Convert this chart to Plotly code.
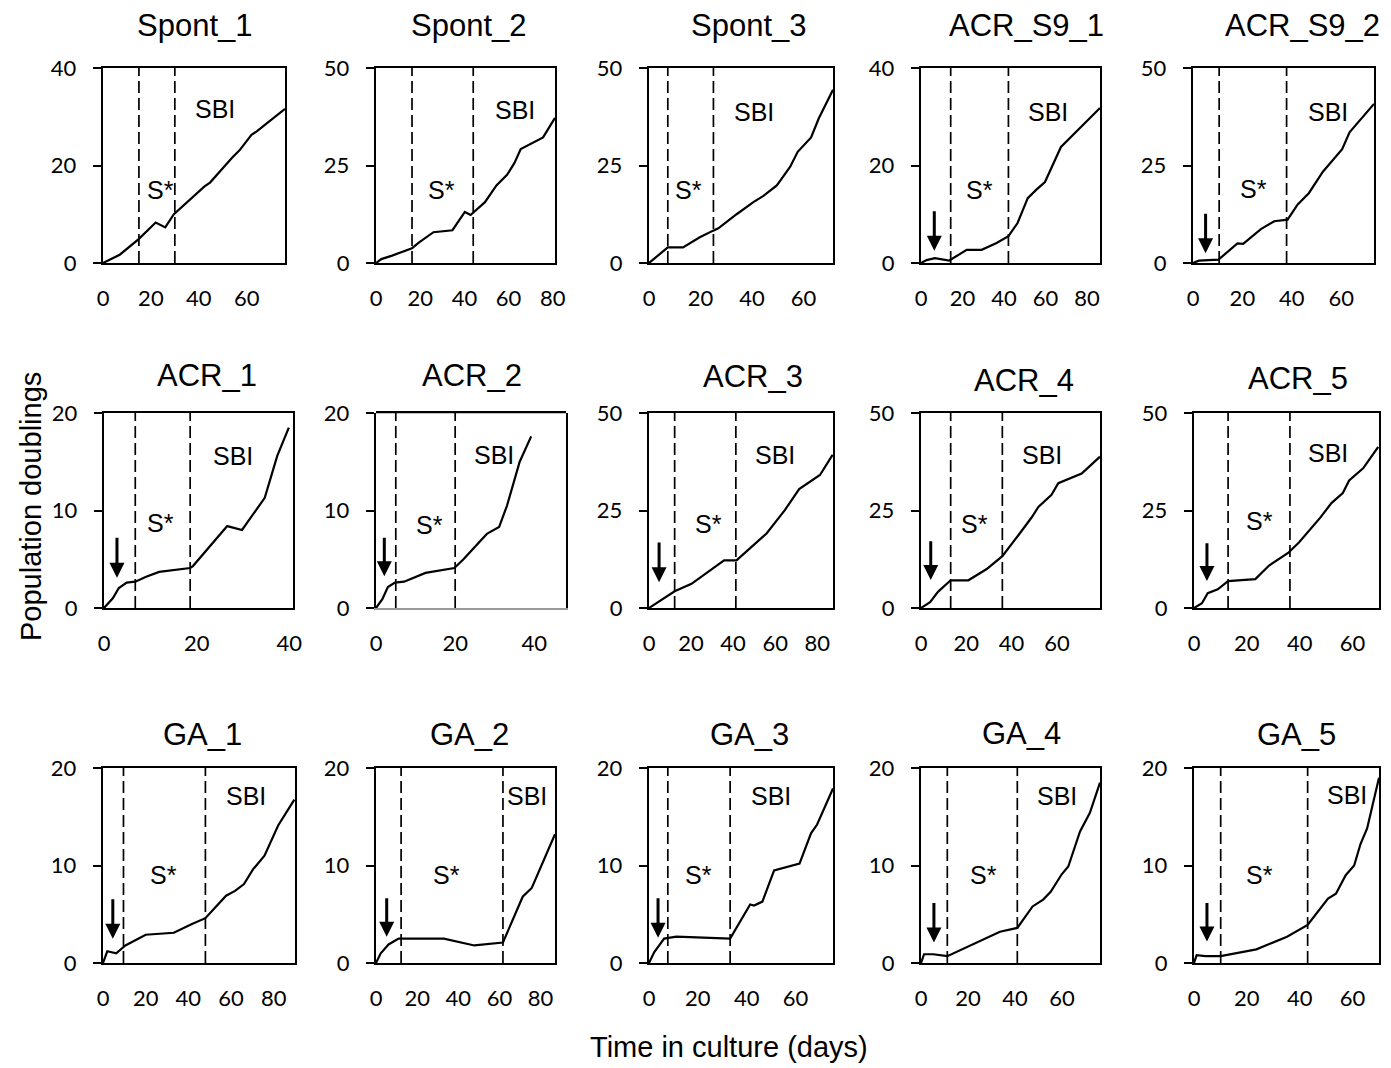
import plotly.graph_objects as go

W, H = 1391, 1068

# ---------------- DATA ----------------
panel_names = ["Spont_1", "Spont_2", "Spont_3", "ACR_S9_1", "ACR_S9_2",
               "ACR_1", "ACR_2", "ACR_3", "ACR_4", "ACR_5",
               "GA_1", "GA_2", "GA_3", "GA_4", "GA_5"]

spont1_days = [0, 7, 14.9, 22, 26, 29.6, 42.4, 44.7, 53.7, 57, 62, 64.2, 76]
spont1_pd = [0, 1.7, 4.9, 8.3, 7.3, 10, 15.7, 16.5, 21.5, 23.1, 26.3, 27, 31.6]

spont2_days = [0, 2.4, 7.3, 16.3, 19.5, 26, 34.6, 40.2, 42.8, 49.3, 54.5, 59.3, 62.6, 65.5, 75.6, 81]
spont2_pd = [0, 1, 1.9, 3.8, 5.3, 7.9, 8.4, 13.1, 12.3, 15.6, 19.9, 22.6, 25.6, 29.2, 32.2, 37.2]

spont3_days = [0, 7.3, 13.2, 19.7, 24.9, 26.9, 34, 40.5, 44.4, 49.6, 54.8, 57.7, 62.9, 65.9, 71.4]
spont3_pd = [0, 4, 4, 6.6, 8.3, 8.9, 12.5, 15.6, 17.2, 19.9, 24.7, 28.5, 32.2, 37.1, 44.4]

acrs9_1_days = [0, 2.7, 6.7, 13.6, 22, 29.2, 36.4, 42.1, 46.5, 51.4, 55.7, 59.7, 67.4, 86.2]
acrs9_1_pd = [0, 0.6, 1, 0.5, 2.7, 2.7, 4.1, 5.5, 8.2, 13.3, 15.1, 16.6, 23.8, 31.8]

acrs9_2_days = [0, 2.4, 10.3, 18, 20.3, 27.5, 32.9, 38.3, 42.4, 46.9, 52.6, 60.4, 63.4, 73.3]
acrs9_2_pd = [0, 0.6, 0.85, 5, 4.9, 8.7, 10.7, 11.1, 15, 17.9, 23.4, 29.2, 33.5, 40.8]

acr1_days = [0, 1.9, 3.2, 4.9, 6.75, 9.1, 11.9, 18.6, 19.2, 26.6, 29.8, 31.6, 34.7, 37.4, 39.9]
acr1_pd = [0, 1, 2.05, 2.6, 2.7, 3.2, 3.7, 4.1, 4.3, 8.4, 8, 9.2, 11.3, 15.6, 18.5]

acr2_days = [0, 1.6, 3, 4.8, 7.1, 12.5, 19.8, 22.1, 28, 31.1, 33.1, 36.3, 39.2]
acr2_pd = [0, 0.9, 2.15, 2.6, 2.7, 3.6, 4.1, 5, 7.6, 8.3, 10.5, 15, 17.6]

acr3_days = [0, 5.9, 12.2, 20.2, 28.9, 35.7, 41.6, 49.5, 55.9, 64.6, 71.4, 81.3, 87.3]
acr3_pd = [0, 2.1, 4.3, 6.2, 9.5, 12.2, 12.2, 16.1, 19.1, 25.1, 30.5, 34.1, 39.3]

acr4_days = [0, 4, 7.6, 13.1, 20.9, 29, 35.9, 38.5, 42.9, 48.8, 51.8, 57.6, 60.6, 70.9, 79]
acr4_pd = [0, 1.5, 4.2, 7.1, 7.1, 10, 13.3, 15.2, 18.6, 23.2, 25.9, 29, 32, 34.5, 38.8]

acr5_days = [0, 3, 5.2, 9, 12.9, 23.2, 28.4, 35.6, 39.7, 47.7, 52, 56.3, 58.7, 64, 69.7]
acr5_pd = [0, 1.2, 3.8, 4.8, 6.9, 7.4, 10.9, 14.1, 16.8, 23.1, 26.9, 29.5, 32.7, 35.8, 41.3]

ga1_days = [0, 2, 6.2, 10.5, 20, 33.2, 41.7, 48, 52.6, 57.7, 61.9, 66.1, 70.3, 75.7, 82.1, 89.7]
ga1_pd = [0, 1.2, 1, 1.8, 2.9, 3.1, 4, 4.6, 5.7, 6.9, 7.4, 8.1, 9.6, 11, 14.1, 16.75]

ga2_days = [0, 2.3, 6.1, 11, 33, 47.8, 61.7, 71.3, 75.7, 87]
ga2_pd = [0, 1, 1.9, 2.5, 2.5, 1.8, 2.1, 6.8, 7.7, 13.2]

ga3_days = [0, 2.1, 6.2, 11.2, 33.2, 41.4, 43, 46.4, 51.2, 61.6, 66.3, 68.8, 75.3]
ga3_pd = [0, 1.1, 2.5, 2.7, 2.5, 6, 5.9, 6.3, 9.5, 10.2, 13.3, 14.2, 17.9]

ga4_days = [0, 1.3, 5.2, 11.2, 33.6, 41, 47.5, 52, 55.2, 59.9, 62.7, 65.5, 67.7, 71.9, 76.2]
ga4_pd = [0, 0.9, 0.9, 0.7, 3.2, 3.6, 5.8, 6.5, 7.3, 9.1, 9.9, 11.9, 13.5, 15.4, 18.5]

ga5_days = [0, 1, 4.3, 10.1, 23.6, 35.2, 43, 50.7, 53.7, 57.4, 60.6, 63, 65.5, 70]
ga5_pd = [0, 0.8, 0.7, 0.7, 1.4, 2.7, 3.9, 6.6, 7.1, 9, 10, 12.2, 13.8, 19]

all_days = [spont1_days, spont2_days, spont3_days, acrs9_1_days, acrs9_2_days,
            acr1_days, acr2_days, acr3_days, acr4_days, acr5_days,
            ga1_days, ga2_days, ga3_days, ga4_days, ga5_days]
all_pd = [spont1_pd, spont2_pd, spont3_pd, acrs9_1_pd, acrs9_2_pd,
          acr1_pd, acr2_pd, acr3_pd, acr4_pd, acr5_pd,
          ga1_pd, ga2_pd, ga3_pd, ga4_pd, ga5_pd]

# phase boundaries (days): start of S* and start of SBI
sstar_start = [15, 16.3, 7.3, 14.3, 10.6, 6.75, 5, 12.2, 13.1, 12.9, 9.6, 12.2, 7.7, 11.2, 10.1]
sbi_start = [30, 44, 25, 42.1, 37.9, 18.6, 20, 41.3, 35.9, 36.3, 48, 61.7, 33.2, 41, 43]

# treatment arrows (day, arrow tail value, arrow tip value); None = no arrow
arrow_day = [None, None, None, 6.4, 5.1, 2.8, 2.1, 4.8, 4.3, 4.9, 4.6, 5.2, 3.7, 5.5, 4.9]
arrow_top = [None, None, None, 10.9, 13, 7.35, 7.35, 17.2, 17.5, 17, 6.7, 6.8, 6.8, 6.3, 6.3]
arrow_tip = [None, None, None, 2.5, 2.5, 3.1, 3.25, 6.6, 7.2, 6.9, 2.5, 2.7, 2.6, 2.1, 2.2]

# axis ranges
x_max = [76, 81, 71.4, 86.2, 73.3, 40.8, 48, 87.5, 79, 70, 90, 87, 75.3, 76.2, 70]
y_max = [40, 50, 50, 40, 50, 20, 20, 50, 50, 50, 20, 20, 20, 20, 20]

# ---------------- LAYOUT (pixel geometry) ----------------
# plot-area boxes: (left, right, top, bottom) in px
boxes = [(103, 285, 68, 263), (376, 555, 68, 263), (649, 833, 68, 263), (921, 1100, 68, 263), (1193, 1374, 68, 263),
         (104, 293, 413, 608), (376, 566, 413, 608), (649, 833, 413, 608), (921, 1100, 413, 608), (1194, 1379, 413, 608),
         (103, 295, 768, 963), (376, 555, 768, 963), (649, 833, 768, 963), (921, 1100, 768, 963), (1194, 1379, 768, 963)]
# title centres in px
title_px = [(195, 26), (469, 26), (749, 26), (1026, 26), (1302, 26),
            (207, 375), (472, 375), (753, 377), (1024, 380), (1298, 378),
            (203, 734), (469, 734), (749, 734), (1021, 733), (1296, 734)]
# S* and SBI label positions (data coordinates of each panel)
sstar_xy = [(23.9, 14.9), (29.8, 18.6), (15.2, 18.6), (28.4, 14.9), (24.4, 19),
            (12.2, 8.7), (13.5, 8.5), (28.1, 21.6), (23.8, 21.6), (24.9, 22.3),
            (28.5, 9.06), (34.3, 9.06), (20.1, 9), (26.5, 9), (24.9, 9)]
sbi_xy = [(46.9, 31.5), (63.1, 39.3), (40.8, 38.8), (61.3, 31), (54.6, 38.6),
          (27.8, 15.6), (29.8, 15.7), (59.8, 39.3), (53.2, 39.3), (50.7, 39.8),
          (67, 17.1), (73.6, 17.1), (49.9, 17.1), (58, 17.1), (57.8, 17.2)]

TXT = "Liberation Sans, Arial, sans-serif"
TICK = "Lato, Liberation Sans, sans-serif"

fig = go.Figure()
layout = dict(width=W, height=H, margin=dict(l=0, r=0, t=0, b=0, autoexpand=False),
              paper_bgcolor="white", plot_bgcolor="white", showlegend=False,
              template="none")
shapes = []
annotations = []

for i, name in enumerate(panel_names):
    k = i + 1
    sx = "" if k == 1 else str(k)
    xa, ya = "xaxis" + sx, "yaxis" + sx
    xr, yr = "x" + sx, "y" + sx
    left, right, top, bottom = boxes[i]
    gray_bottom = (name == "ACR_2")

    fig.add_trace(go.Scatter(x=all_days[i], y=all_pd[i], mode="lines",
                             line=dict(color="black", width=2.2),
                             xaxis=xr, yaxis=yr, hoverinfo="skip"))

    layout[xa] = dict(domain=[left / W, right / W], range=[0, x_max[i]], anchor=yr,
                      automargin=False,
                      tick0=0, dtick=20, showgrid=False, zeroline=False,
                      showline=True, linecolor="#9a9a9a" if gray_bottom else "black",
                      linewidth=2.4, mirror=not gray_bottom, ticks="",
                      ticklabelstandoff=14,
                      tickfont=dict(family=TICK, size=22, color="black"))
    layout[ya] = dict(domain=[1 - bottom / H, 1 - top / H], range=[0, y_max[i]], anchor=xr,
                      automargin=False,
                      tickvals=[0, y_max[i] / 2, y_max[i]], showgrid=False, zeroline=False,
                      showline=True, linecolor="black", linewidth=2.4, mirror=True,
                      ticks="outside", ticklen=8, tickwidth=2, tickcolor="black",
                      ticklabelstandoff=12,
                      tickfont=dict(family=TICK, size=22, color="black"))
    if gray_bottom:
        shapes.append(dict(type="line", xref=xr + " domain", yref=yr + " domain",
                           x0=0, x1=1, y0=1.004, y1=1.004, line=dict(color="black", width=2.2)))

    for xv in (sstar_start[i], sbi_start[i]):
        shapes.append(dict(type="line", xref=xr, yref=yr + " domain", x0=xv, x1=xv, y0=0, y1=1,
                           line=dict(color="black", width=1.7, dash="12px,5px")))

    annotations.append(dict(text=name, xref="paper", yref="paper",
                            x=title_px[i][0] / W, y=1 - title_px[i][1] / H,
                            xanchor="center", yanchor="middle", showarrow=False,
                            font=dict(family=TXT, size=31, color="black")))
    annotations.append(dict(text="S*", xref=xr, yref=yr, x=sstar_xy[i][0], y=sstar_xy[i][1],
                            xanchor="center", yanchor="middle", showarrow=False,
                            font=dict(family=TXT, size=25, color="black")))
    annotations.append(dict(text="SBI", xref=xr, yref=yr, x=sbi_xy[i][0], y=sbi_xy[i][1],
                            xanchor="center", yanchor="middle", showarrow=False,
                            font=dict(family=TXT, size=25, color="black")))
    if arrow_day[i] is not None:
        annotations.append(dict(text="", xref=xr, yref=yr, axref=xr, ayref=yr,
                                x=arrow_day[i], y=arrow_tip[i], ax=arrow_day[i], ay=arrow_top[i],
                                showarrow=True, arrowhead=2, arrowsize=1, arrowwidth=3,
                                arrowcolor="black", standoff=0, startstandoff=0))

annotations.append(dict(text="Population doublings", xref="paper", yref="paper",
                        x=31 / W, y=1 - 507 / H, textangle=-90, showarrow=False,
                        xanchor="center", yanchor="middle",
                        font=dict(family=TXT, size=29, color="black")))
annotations.append(dict(text="Time in culture (days)", xref="paper", yref="paper",
                        x=729 / W, y=1 - 1047 / H, showarrow=False,
                        xanchor="center", yanchor="middle",
                        font=dict(family=TXT, size=29, color="black")))

layout["shapes"] = shapes
layout["annotations"] = annotations
fig.update_layout(**layout)
fig.write_html("out.html")
